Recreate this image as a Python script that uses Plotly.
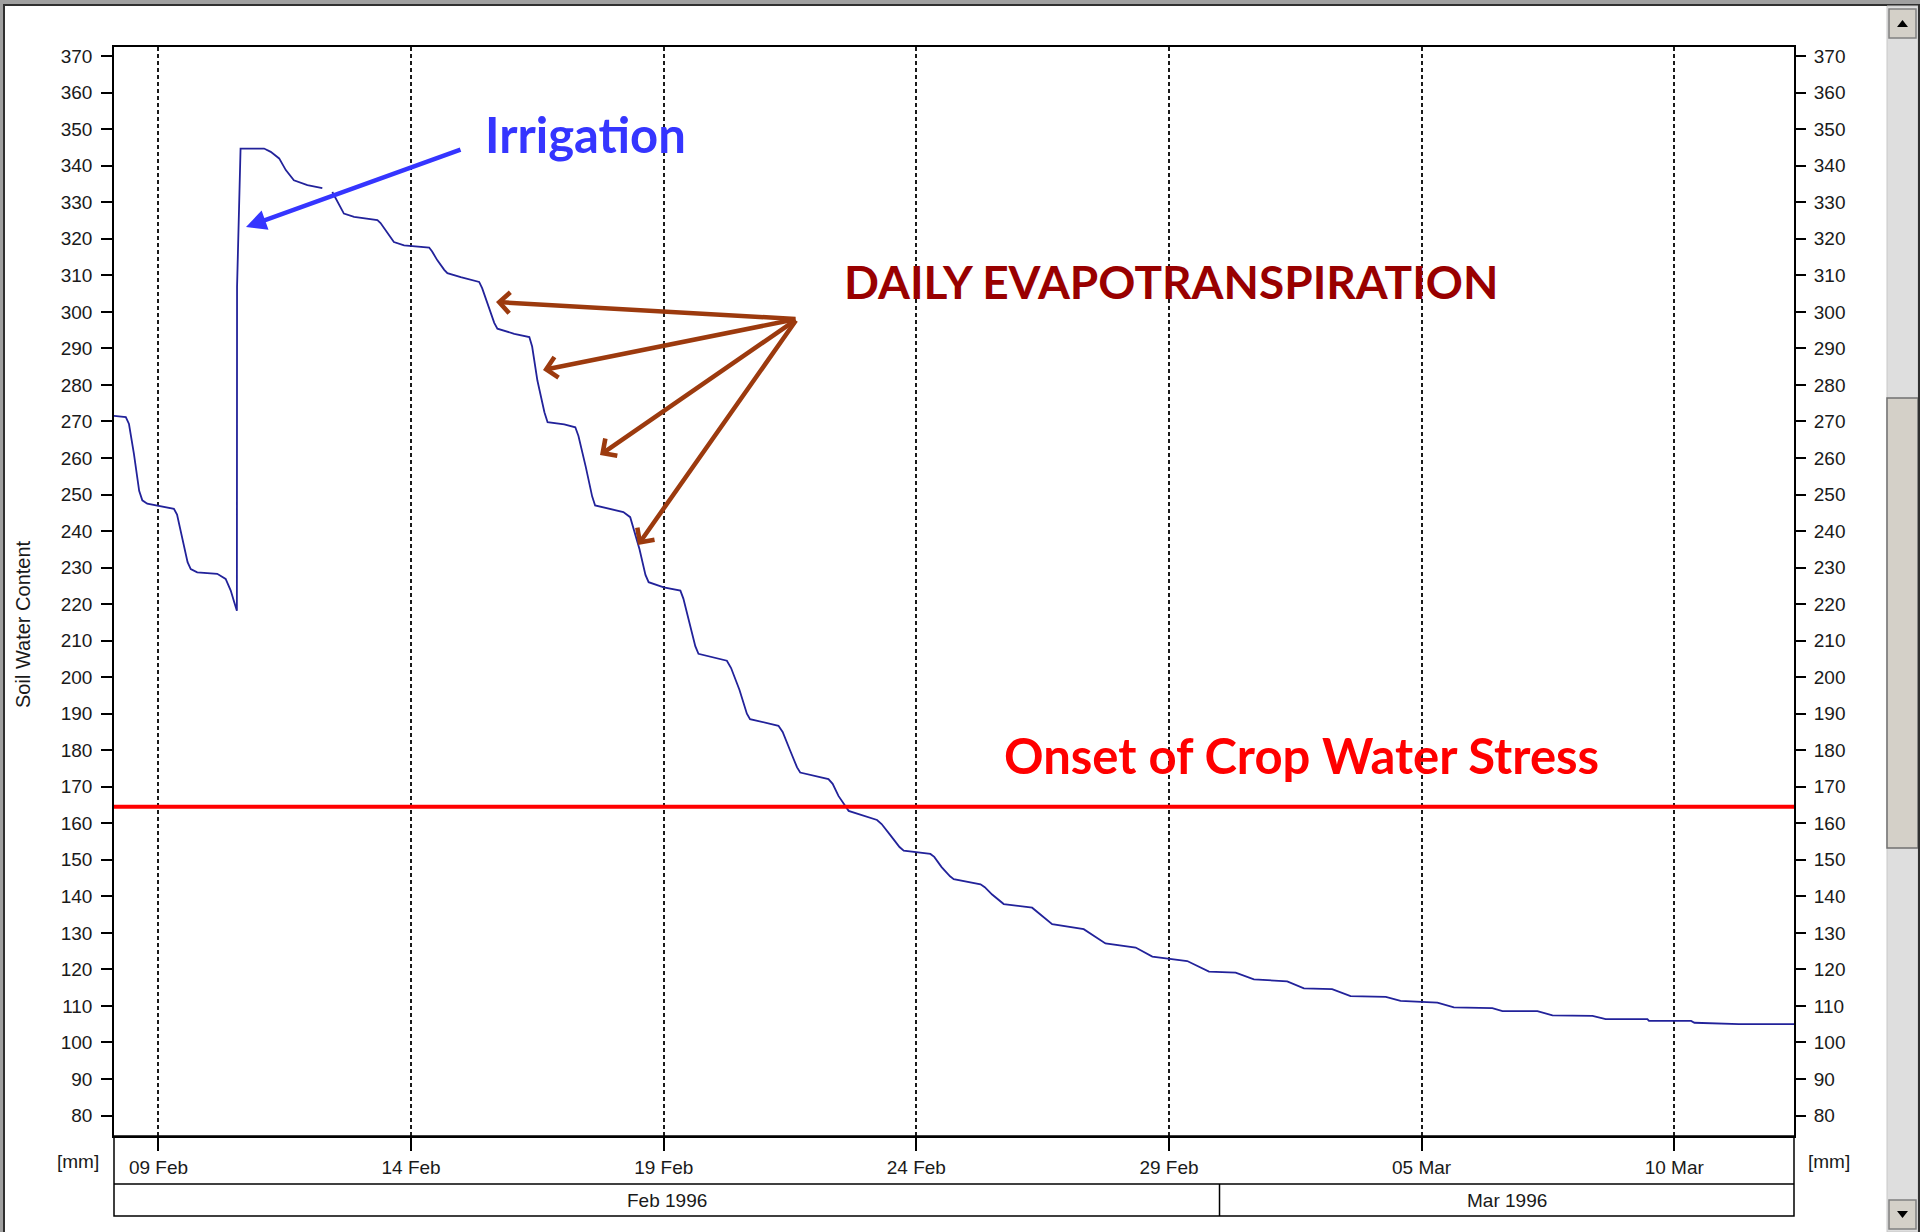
import pandas as pd
import plotly.graph_objects as go

W, H = 1920, 1232

# soil water content [mm] (None = gap in the record)
time = [
    "1996-02-08 02:53", "1996-02-08 08:30", "1996-02-08 10:00", "1996-02-08 12:20",
    "1996-02-08 14:50", "1996-02-08 16:20", "1996-02-08 18:40", "1996-02-09 07:20",
    "1996-02-09 08:50", "1996-02-09 11:20", "1996-02-09 13:50", "1996-02-09 15:20",
    "1996-02-09 18:25", "1996-02-10 03:55", "1996-02-10 07:55", "1996-02-10 09:00",
    "1996-02-10 10:20", "1996-02-10 12:00", "1996-02-10 13:15", "1996-02-10 13:20",
    "1996-02-10 14:15", "1996-02-10 15:00", "1996-02-11 02:10", "1996-02-11 05:20",
    "1996-02-11 09:20", "1996-02-11 12:30", "1996-02-11 16:20", "1996-02-11 22:45",
    "1996-02-12 05:50", "1996-02-12 08:00", "1996-02-12 10:35", "1996-02-12 16:05",
    "1996-02-12 20:55", "1996-02-13 08:00", "1996-02-13 09:30", "1996-02-13 12:00",
    "1996-02-13 14:30", "1996-02-13 15:50", "1996-02-13 20:40", "1996-02-14 08:35",
    "1996-02-14 10:00", "1996-02-14 12:30", "1996-02-14 15:45", "1996-02-14 17:15",
    "1996-02-14 23:35", "1996-02-15 08:20", "1996-02-15 09:45", "1996-02-15 12:15",
    "1996-02-15 15:30", "1996-02-15 17:00", "1996-02-16 01:00", "1996-02-16 08:10",
    "1996-02-16 09:30", "1996-02-16 12:00", "1996-02-16 15:20", "1996-02-16 16:50",
    "1996-02-17 00:45", "1996-02-17 06:00", "1996-02-17 07:30", "1996-02-17 11:00",
    "1996-02-17 14:00", "1996-02-17 15:25", "1996-02-18 04:50", "1996-02-18 08:05",
    "1996-02-18 09:30", "1996-02-18 12:30", "1996-02-18 15:20", "1996-02-18 16:50",
    "1996-02-19 00:00", "1996-02-19 07:55", "1996-02-19 09:20", "1996-02-19 12:00",
    "1996-02-19 15:00", "1996-02-19 16:30", "1996-02-20 06:00", "1996-02-20 08:00",
    "1996-02-20 12:00", "1996-02-20 15:30", "1996-02-20 17:00", "1996-02-21 06:30",
    "1996-02-21 08:30", "1996-02-21 12:00", "1996-02-21 15:20", "1996-02-21 16:50",
    "1996-02-22 06:15", "1996-02-22 08:15", "1996-02-22 11:00", "1996-02-22 14:30",
    "1996-02-22 15:50", "1996-02-23 05:20", "1996-02-23 07:30", "1996-02-23 12:00",
    "1996-02-23 16:00", "1996-02-23 18:00", "1996-02-24 06:40", "1996-02-24 08:30",
    "1996-02-24 12:00", "1996-02-24 16:00", "1996-02-24 17:45", "1996-02-25 06:30",
    "1996-02-25 08:30", "1996-02-25 12:00", "1996-02-25 16:00", "1996-02-25 17:30",
    "1996-02-26 07:00", "1996-02-26 12:00", "1996-02-26 16:30", "1996-02-27 07:30",
    "1996-02-27 17:50", "1996-02-28 08:10", "1996-02-28 16:05", "1996-02-29 08:40",
    "1996-02-29 19:00", "1996-03-01 07:40", "1996-03-01 16:20", "1996-03-02 08:10",
    "1996-03-02 16:05", "1996-03-03 05:30", "1996-03-03 14:15", "1996-03-04 07:00",
    "1996-03-04 14:00", "1996-03-05 07:30", "1996-03-05 15:20", "1996-03-06 09:35",
    "1996-03-06 14:25", "1996-03-07 07:00", "1996-03-07 14:10", "1996-03-08 09:10",
    "1996-03-08 15:25", "1996-03-09 11:15", "1996-03-09 12:00", "1996-03-10 08:00",
    "1996-03-10 09:35", "1996-03-11 06:45", "1996-03-12 08:53",
]
swc = [
    271.5, 271.2, 269.3, 261.2,
    251.0, 248.4, 247.5, 246.1,
    244.5, 238.3, 231.5, 229.6,
    228.7, 228.3, 226.9, 225.5,
    223.7, 220.5, 218.2, 306.8,
    331.0, 344.7, 344.7, 343.8,
    342.0, 338.8, 336.0, 334.7,
    333.9, None, 332.8, 326.9,
    326.0, 325.1, 324.3, 322.3,
    320.0, 319.1, 318.2, 317.6,
    316.5, 314.1, 311.5, 310.6,
    309.5, 308.2, 306.5, 302.3,
    297.0, 295.4, 294.0, 293.1,
    290.5, 281.2, 272.5, 269.8,
    269.2, 268.4, 266.0, 257.5,
    249.5, 247.0, 245.2, 243.8,
    241.0, 235.0, 228.0, 226.0,
    224.6, 223.7, 221.5, 215.0,
    208.5, 206.4, 204.5, 202.5,
    196.5, 190.0, 188.5, 186.7,
    185.0, 180.0, 175.3, 173.9,
    172.1, 170.8, 167.5, 164.5,
    163.4, 160.9, 159.8, 156.5,
    153.5, 152.5, 151.6, 150.8,
    148.0, 145.5, 144.7, 143.3,
    142.5, 140.5, 138.5, 137.9,
    136.9, 134.5, 132.4, 131.0,
    127.1, 126.0, 123.5, 122.3,
    119.4, 119.1, 117.3, 116.7,
    114.8, 114.6, 112.7, 112.5,
    111.4, 110.9, 109.6, 109.4,
    108.6, 108.6, 107.4, 107.3,
    106.4, 106.4, 105.9, 105.9,
    105.4, 105.0, 105.0,
]

stress_level = 164.5
x_range = ["1996-02-08 02:53", "1996-03-12 08:53"]
y_range = [74.4, 372.5]
month_starts = ["1996-02-01", "1996-03-01", "1996-04-01"]
month_labels = ["Feb 1996", "Mar 1996"]
evap_targets = [(496, 302), (543, 370), (600, 455), (638, 545)]  # arrow tips, px


def px(x):
    return x / W


def py(y):
    return 1 - y / H


TICKFONT = dict(family="Liberation Sans, Arial", size=19, color="#1a1a1a")

fig = go.Figure()
fig.add_trace(go.Scatter(
    x=time, y=swc, mode="lines", connectgaps=False,
    line=dict(color="#22229a", width=1.8), xaxis="x", yaxis="y",
))
fig.add_trace(go.Scatter(
    x=x_range, y=[stress_level, stress_level], mode="lines",
    line=dict(color="#ff0000", width=4), xaxis="x", yaxis="y2",
))

axis_common = dict(showline=True, linecolor="black", linewidth=1.5,
                   ticks="outside", tickcolor="black", tickwidth=1.5,
                   tickfont=TICKFONT, zeroline=False)

fig.update_layout(
    width=W, height=H, margin=dict(l=0, r=0, t=0, b=0),
    paper_bgcolor="white", plot_bgcolor="white", showlegend=False,
    xaxis=dict(
        type="date", range=x_range, domain=[px(114), px(1794)], anchor="y",
        tick0="1996-02-09", dtick=5 * 86400000, tickformat="%d %b",
        ticklen=13, mirror=True,
        showgrid=True, gridcolor="#1a1a1a", gridwidth=1.5, griddash="4px,3px",
        **axis_common,
    ),
    yaxis=dict(
        range=y_range, domain=[py(1136), py(47)], anchor="x",
        tick0=0, dtick=10, ticklen=11, ticklabelstandoff=5, mirror=True,
        showgrid=False, **axis_common,
    ),
    yaxis2=dict(
        range=y_range, overlaying="y", side="right", anchor="x",
        tick0=0, dtick=10, ticklen=11, ticklabelstandoff=4,
        showgrid=False, **{**axis_common, "showline": False},
    ),
)

# date / month rows under the plot
shapes = [
    dict(type="rect", xref="paper", yref="paper", x0=px(114), x1=px(1794),
         y0=py(1216), y1=py(1136), line=dict(color="black", width=1.5)),
    dict(type="line", xref="paper", yref="paper", x0=px(114), x1=px(1794),
         y0=py(1184), y1=py(1184), line=dict(color="black", width=1.5)),
]
lo, hi = pd.Timestamp(x_range[0]), pd.Timestamp(x_range[1])
annotations = []
for i, label in enumerate(month_labels):
    a = max(pd.Timestamp(month_starts[i]), lo)
    b = min(pd.Timestamp(month_starts[i + 1]), hi)
    if i > 0:
        shapes.append(dict(type="line", xref="x", yref="paper", x0=a, x1=a,
                           y0=py(1216), y1=py(1184),
                           line=dict(color="black", width=1.5)))
    annotations.append(dict(x=a + (b - a) / 2, y=py(1200), xref="x", yref="paper",
                            xanchor="center", yanchor="middle",
                            text=label, showarrow=False, font=TICKFONT))

# window chrome: frame + scrollbar
shapes += [
    dict(type="rect", xref="paper", yref="paper", x0=0, x1=1, y0=py(4), y1=1,
         fillcolor="#a0a0a0", line_width=0, layer="above"),
    dict(type="line", xref="paper", yref="paper", x0=0, x1=1, y0=py(5), y1=py(5),
         line=dict(color="#303030", width=2), layer="above"),
    dict(type="rect", xref="paper", yref="paper", x0=0, x1=px(3), y0=0, y1=1,
         fillcolor="#a0a0a0", line_width=0, layer="above"),
    dict(type="line", xref="paper", yref="paper", x0=px(4), x1=px(4), y0=0, y1=py(4),
         line=dict(color="#303030", width=2), layer="above"),
    dict(type="rect", xref="paper", yref="paper", x0=px(1887), x1=px(1918),
         y0=0, y1=py(6), fillcolor="#dedede", line=dict(color="#c8c8c8", width=1)),
    dict(type="rect", xref="paper", yref="paper", x0=px(1889), x1=px(1916),
         y0=py(38), y1=py(9), fillcolor="#d4d0c8", line=dict(color="#808080", width=1.5)),
    dict(type="rect", xref="paper", yref="paper", x0=px(1887), x1=px(1918),
         y0=py(848), y1=py(398), fillcolor="#d4d0c8", line=dict(color="#707070", width=1.5)),
    dict(type="rect", xref="paper", yref="paper", x0=px(1889), x1=px(1916),
         y0=py(1229), y1=py(1200), fillcolor="#d4d0c8", line=dict(color="#808080", width=1.5)),
    dict(type="path", xref="paper", yref="paper",
         path=f"M {px(1897)} {py(27)} L {px(1908)} {py(27)} L {px(1902.5)} {py(20)} Z",
         fillcolor="black", line_width=0),
    dict(type="path", xref="paper", yref="paper",
         path=f"M {px(1897)} {py(1211)} L {px(1908)} {py(1211)} L {px(1902.5)} {py(1218)} Z",
         fillcolor="black", line_width=0),
    dict(type="line", xref="paper", yref="paper", x0=px(1919), x1=px(1919), y0=0, y1=py(4),
         line=dict(color="#303030", width=2), layer="above"),
]


def label(x, y, text, font, **kw):
    return dict(x=px(x), y=py(y), xref="paper", yref="paper", text=text,
                xanchor="center", yanchor="middle", showarrow=False, font=font, **kw)


small = dict(family="Liberation Sans, Arial", size=20, color="#1a1a1a")
annotations += [
    label(23, 624, "Soil Water Content", small, textangle=-90),
    label(78, 1161, "[mm]", TICKFONT),
    label(1829, 1161, "[mm]", TICKFONT),
    label(585, 134, "<b>Irrigation</b>", dict(family="Lato", size=49, color="#3535ff")),
    label(1171, 281, "<b>DAILY EVAPOTRANSPIRATION</b>",
          dict(family="Lato", size=46, color="#990000")),
    label(1301, 755, "<b>Onset of Crop Water Stress</b>",
          dict(family="Lato", size=49, color="#ff0000")),
    # irrigation arrow
    dict(x=px(246), y=py(227), xref="paper", yref="paper", text="",
         showarrow=True, ax=216, ay=-78, arrowhead=2, arrowsize=0.9,
         arrowwidth=4.5, arrowcolor="#3535ff", standoff=0),
]
tail = (797, 319)
for hx, hy in evap_targets:
    annotations.append(dict(
        x=px(hx), y=py(hy), xref="paper", yref="paper", text="",
        showarrow=True, ax=tail[0] - hx, ay=tail[1] - hy, arrowhead=4,
        arrowsize=0.9, arrowwidth=4.5, arrowcolor="#9c3a0e", standoff=0,
    ))

fig.update_layout(shapes=shapes, annotations=annotations)
fig.write_html("out.html", config={"displayModeBar": False},
               post_script="document.body.style.margin='0';")
